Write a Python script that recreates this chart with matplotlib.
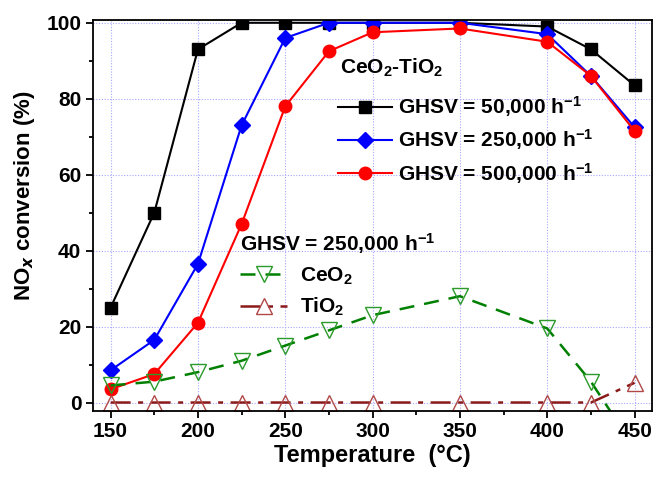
import matplotlib
matplotlib.use("Agg")
import matplotlib.pyplot as plt
from matplotlib.ticker import MultipleLocator

plt.rcParams["font.family"] = ["Liberation Sans", "DejaVu Sans"]
plt.rcParams["font.weight"] = "bold"
plt.rcParams["mathtext.default"] = "regular"

temps = [150, 175, 200, 225, 250, 275, 300, 350, 400, 425, 450]
ghsv_50k = [25, 50, 93, 100, 100, 100, 100, 100, 99, 93, 83.5]
ghsv_250k = [8.5, 16.5, 36.5, 73, 96, 100, 100, 100, 97, 86, 72.5]
ghsv_500k = [3.5, 7.5, 21, 47, 78, 92.5, 97.5, 98.5, 95, 86, 71.5]
ceo2 = [4.5, 5.5, 8, 11, 15, 19, 23, 28, 19.5, 5.5, -12]
tio2 = [0, 0, 0, 0, 0, 0, 0, 0, 0, 0, 5.2]

fig = plt.figure(figsize=(6.56, 4.79), dpi=100)
ax = fig.add_axes([0.142, 0.143, 0.852, 0.815])

l1, = ax.plot(temps, ghsv_50k, "-s", color="black", lw=1.5, ms=8.5,
              label="GHSV = 50,000 h$^{-1}$")
l2, = ax.plot(temps, ghsv_250k, "-D", color="blue", lw=1.5, ms=8.5,
              label="GHSV = 250,000 h$^{-1}$")
l3, = ax.plot(temps, ghsv_500k, "-o", color="red", lw=1.5, ms=9,
              label="GHSV = 500,000 h$^{-1}$")
l4, = ax.plot(temps, ceo2, "--v", color="#008000", lw=1.8, ms=11,
              mfc="none", mec="#2a9a2a", mew=1, dashes=(6, 4), label="CeO$_2$")
l5, = ax.plot(temps, tio2, "-.^", color="#8b1a1a", lw=1.8, ms=11,
              mfc="none", mec="#b04848", mew=1, dashes=(8, 3, 2, 3), label="TiO$_2$")

ax.set_xlim(140, 460)
ax.set_ylim(-2.1, 100.7)
ax.xaxis.set_major_locator(MultipleLocator(50))
ax.xaxis.set_minor_locator(MultipleLocator(25))
ax.yaxis.set_major_locator(MultipleLocator(20))
ax.yaxis.set_minor_locator(MultipleLocator(10))
ax.tick_params(which="both", direction="out", top=False, right=False,
               width=1.3, labelsize=15)
ax.tick_params(which="major", length=5)
ax.tick_params(which="minor", length=3)
ax.grid(True, which="major", color="#a8a8ff", ls=(0, (1, 1.5)), lw=0.8)
for s in ax.spines.values():
    s.set_linewidth(1.3)

ax.set_xlabel("Temperature  (\u00b0C)", fontsize=17, fontweight="bold", labelpad=2)
ax.set_ylabel("NO$_{\\mathit{x}}$ conversion (%)", fontsize=16, fontweight="bold")
ax.yaxis.set_label_coords(-0.1, 0.55)

# upper legend: title as separate text so the gap to the entries matches
ax.text(0.442, 0.879, "CeO$_2$-TiO$_2$", transform=ax.transAxes, fontsize=15,
        fontweight="bold", va="center", ha="left")
leg1 = ax.legend(handles=[l1, l2, l3], loc="upper left",
                 bbox_to_anchor=(0.438, 0.81), frameon=False, fontsize=15,
                 handlelength=2.6, handletextpad=0.3,
                 labelspacing=0.4, borderaxespad=0, borderpad=0)
ax.add_artist(leg1)

leg2 = ax.legend(handles=[l4, l5], title="GHSV = 250,000 h$^{-1}$", loc="upper left",
                 bbox_to_anchor=(0.263, 0.46), frameon=False, fontsize=15,
                 title_fontsize=15, handlelength=2.25, handletextpad=0.6,
                 labelspacing=0.45, borderaxespad=0, borderpad=0)
leg2._legend_box.align = "left"
leg2.get_title().set_fontweight("bold")

fig.savefig("out.png", dpi=100)
